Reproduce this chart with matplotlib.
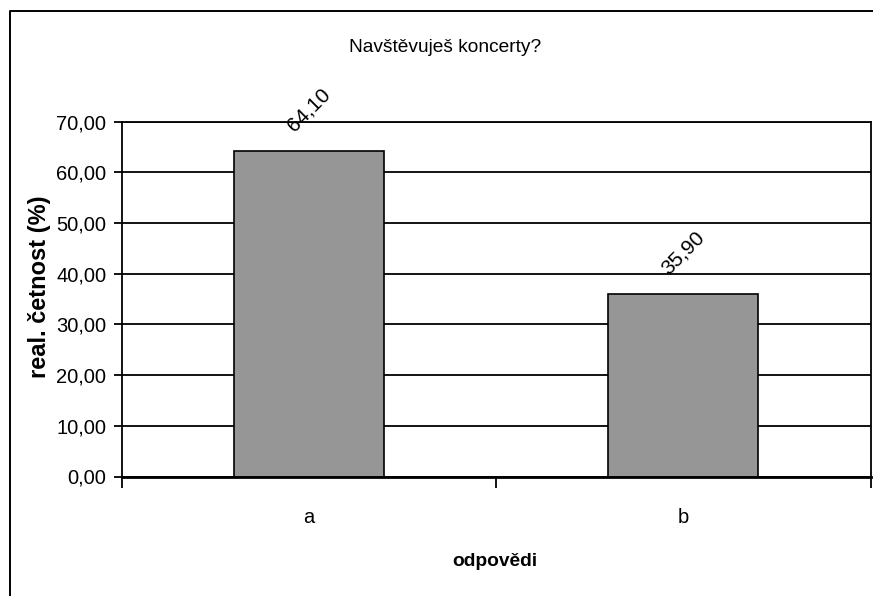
import matplotlib
matplotlib.use("Agg")
import matplotlib.pyplot as plt
from matplotlib.lines import Line2D
from matplotlib.ticker import FixedLocator

categories = ["a", "b"]
values = [64.10, 35.90]
value_labels = ["64,10", "35,90"]
yticks = [0, 10, 20, 30, 40, 50, 60, 70]
ytick_labels = ["0,00", "10,00", "20,00", "30,00", "40,00", "50,00", "60,00", "70,00"]
title = "Navštěvuješ koncerty?"
xlabel = "odpovědi"
ylabel = "real. četnost (%)"

FONT = ["Liberation Sans", "DejaVu Sans"]
plt.rcParams["font.family"] = FONT

W, H = 873, 596
fig = plt.figure(figsize=(W / 100, H / 100), dpi=100)
fig.patch.set_facecolor("white")

left, right, top, bottom = 121.5, 870.5, 121.5, 476.5
ax = fig.add_axes([left / W, 1 - bottom / H, (right - left) / W, (bottom - top) / H])

x = list(range(len(categories)))
ax.set_axisbelow(True)
ax.yaxis.grid(True, color="black", linewidth=1.3)
ax.bar(x, values, width=0.4, color="#969696", edgecolor="black", linewidth=1.2, zorder=3)

ax.set_xlim(-0.5, len(categories) - 0.5)
ax.set_ylim(0, 70)
ax.set_yticks(yticks)
ax.set_yticklabels(ytick_labels, fontsize=14.5)
ax.set_xticks(x)
ax.set_xticklabels(categories, fontsize=14.5)
ax.tick_params(axis="x", which="major", length=0, pad=23)
ax.xaxis.set_minor_locator(FixedLocator([i - 0.5 for i in range(len(categories) + 1)]))
ax.tick_params(axis="x", which="minor", length=8, width=1.3, direction="out", color="black")
ax.tick_params(axis="y", which="major", length=6, width=1.3, direction="out", color="black", pad=5)

for s in ax.spines.values():
    s.set_color("black")
    s.set_linewidth(1.3)
ax.spines["bottom"].set_linewidth(2.0)
ax.spines["bottom"].set_zorder(4)

for xi, v, lab in zip(x, values, value_labels):
    ax.annotate(lab, (xi, v), xytext=(0, 30), textcoords="offset points",
                rotation=45, ha="center", va="center", fontsize=15)

fig.text(445 / W, 1 - 47 / H, title, ha="center", va="center", fontsize=13.8)
fig.text(495 / W, 1 - 562 / H, xlabel, ha="center", va="center", fontsize=13.8, fontweight="bold")
fig.text(40 / W, 1 - 287 / H, ylabel, ha="center", va="center", rotation=90,
         fontsize=17, fontweight="bold")

# outer chart border (left and top visible)
fig.add_artist(Line2D([9.5 / W, 9.5 / W, 1.0], [0.0, 1 - 10.5 / H, 1 - 10.5 / H],
                      transform=fig.transFigure, color="black", linewidth=1.4))

fig.savefig("out.png", dpi=100)
